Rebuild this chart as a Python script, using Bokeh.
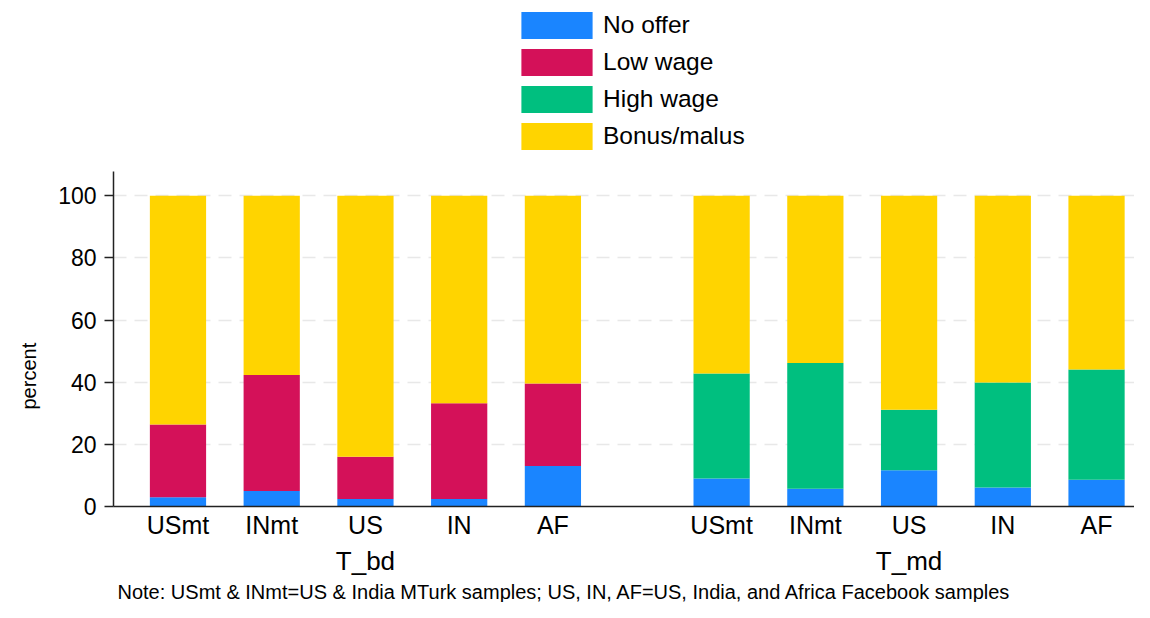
from bokeh.plotting import figure
from bokeh.models import (ColumnDataSource, Range1d, FixedTicker, Title, Legend, LegendItem,
                          LinearAxis)
from bokeh.embed import file_html
from bokeh.resources import INLINE

groups = ["T_bd", "T_md"]
samples = ["USmt", "INmt", "US", "IN", "AF"]
series = ["No offer", "Low wage", "High wage", "Bonus/malus"]
colors = ["#1A85FF", "#D41159", "#00BF7F", "#FFD400"]

# percent values, per group, in sample order
bd_no_offer = [3.0, 5.0, 2.4, 2.4, 13.0]
bd_low_wage = [23.4, 37.3, 13.6, 30.8, 26.6]
bd_high_wage = [0, 0, 0, 0, 0]
bd_bonus = [73.6, 57.7, 84.0, 66.8, 60.4]

md_no_offer = [9.0, 5.7, 11.7, 6.1, 8.6]
md_low_wage = [0, 0, 0, 0, 0]
md_high_wage = [33.8, 40.5, 19.4, 33.8, 35.5]
md_bonus = [57.2, 53.8, 68.9, 60.1, 55.9]

y_ticks = [0, 20, 40, 60, 80, 100]
y_axis_top = 107.9
note = "Note: USmt & INmt=US & India MTurk samples; US, IN, AF=US, India, and Africa Facebook samples"

FONT = "Liberation Sans"

# category slots in tenths of a bar step: 10 per bar, extra gap of 8 between groups
STEP, GAP = 10, 8
pos = [g * (len(samples) * STEP + GAP) + i * STEP for g in range(len(groups)) for i in range(len(samples))]
labels = [s for g in groups for s in samples]
group_pos = [(pos[g * len(samples)] + pos[(g + 1) * len(samples) - 1]) / 2 for g in range(len(groups))]

source = ColumnDataSource(data=dict(
    x=pos,
    no_offer=bd_no_offer + md_no_offer,
    low=bd_low_wage + md_low_wage,
    high=bd_high_wage + md_high_wage,
    bonus=bd_bonus + md_bonus,
))

p = figure(x_range=Range1d(-6.88, 102.05), y_range=Range1d(0, 162.8),
           width=1134, height=602,
           min_border_left=110, min_border_right=0, min_border_top=0, min_border_bottom=92,
           output_backend="svg", toolbar_location=None)

renderers = p.vbar_stack(["no_offer", "low", "high", "bonus"], x="x", width=0.6 * STEP, color=colors,
                         line_color=None, source=source)

p.outline_line_color = None
p.xgrid.grid_line_color = None
p.ygrid.ticker = FixedTicker(ticks=y_ticks)
p.ygrid.grid_line_color = "#e8e8e8"
p.ygrid.grid_line_width = 1.5
p.ygrid.grid_line_dash = "13 8"

ya = p.yaxis[0]
ya.ticker = FixedTicker(ticks=y_ticks)
ya.bounds = (0, y_axis_top)
ya.major_label_text_font = FONT
ya.major_label_text_font_size = "23px"
ya.major_label_text_color = "black"
ya.major_label_standoff = 8
ya.major_tick_out = 9
ya.major_tick_in = 0
ya.minor_tick_out = 0
ya.minor_tick_in = 0
ya.axis_line_color = "#222222"
ya.axis_line_width = 1.5
ya.major_tick_line_color = "#222222"
ya.major_tick_line_width = 1.5

p.add_layout(Title(text="percent", align="left", offset=97, standoff=31, text_font=FONT,
                   text_font_size="20px", text_font_style="normal", text_color="black"), "left")

xa = p.xaxis[0]
xa.ticker = FixedTicker(ticks=pos)
xa.major_label_overrides = {x_: l for x_, l in zip(pos, labels)}
xa.major_label_text_font = FONT
xa.major_label_text_font_size = "25px"
xa.major_label_text_color = "black"
xa.major_tick_out = 0
xa.major_tick_in = 0
xa.minor_tick_out = 0
xa.minor_tick_in = 0
xa.major_label_standoff = 4
xa.axis_line_color = "#222222"
xa.axis_line_width = 1.5

ga = LinearAxis(ticker=FixedTicker(ticks=group_pos),
                major_label_overrides={x_: g for x_, g in zip(group_pos, groups)},
                major_label_text_font=FONT, major_label_text_font_size="26px",
                major_label_text_color="black", major_label_standoff=4,
                axis_line_color=None, major_tick_line_color=None, minor_tick_line_color=None,
                major_tick_out=0, major_tick_in=0, minor_tick_out=0, minor_tick_in=0)
p.add_layout(ga, "below")

lg = Legend(items=[LegendItem(label=s, renderers=[r]) for s, r in zip(series, renderers)],
            location=(399, 353), orientation="vertical",
            glyph_width=89, glyph_height=34, label_height=34, label_standoff=2,
            spacing=3, padding=0, margin=0,
            border_line_color=None, background_fill_alpha=0,
            label_text_font=FONT, label_text_font_size="24.5px", label_text_color="black")
p.add_layout(lg, "center")

p.add_layout(Title(text=note, align="left", offset=4, standoff=0, text_font=FONT, text_font_size="20px",
                   text_font_style="normal", text_color="black"), "below")

open("out.html", "w").write(file_html(p, INLINE))
